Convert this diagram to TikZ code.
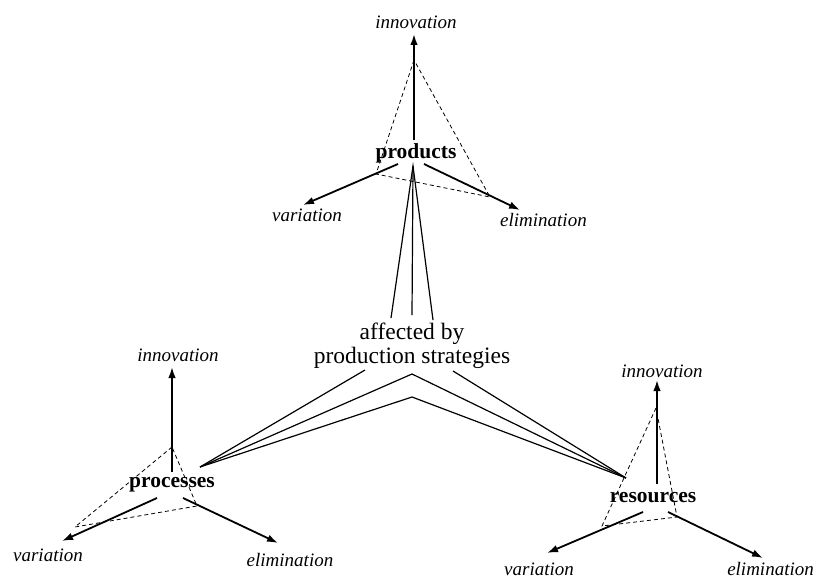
\documentclass[tikz,border=0pt]{standalone}
\usepackage{fontspec}
\setmainfont{Liberation Serif}
\usetikzlibrary{arrows.meta}
\begin{document}
\begin{tikzpicture}[x=1pt,y=-1pt,
  axis/.style={line width=1.8pt,-{Latex[length=11pt,width=7.5pt]}},
  tri/.style={line width=0.8pt, dash pattern=on 4pt off 3pt},
  fan/.style={line width=1.2pt, line join=miter},
  lab/.style={font=\fontsize{19}{22}\selectfont\itshape, inner sep=0pt},
  cat/.style={font=\fontsize{21.5}{24}\selectfont\bfseries, inner sep=0pt},
  big/.style={font=\fontsize{23.5}{24}\selectfont, inner sep=0pt, anchor=base}
]
\useasboundingbox (0,0) rectangle (816,578);

% ---------- products ----------
\node[cat] (prod) at (416,153) {products};
\coordinate (pIb) at (414,140); \coordinate (pIt) at (414,34);
\coordinate (pVb) at (398,164); \coordinate (pVt) at (303,205);
\coordinate (pEb) at (424,164); \coordinate (pEt) at (520,210);
\coordinate (pA) at (414,60); \coordinate (pL) at (376,174); \coordinate (pR) at (490,197);
\draw[tri] (pA) -- (pL) -- (pR) -- cycle;
\draw[axis] (pIb) -- (pIt);
\draw[axis] (pVb) -- (pVt);
\draw[axis] (pEb) -- (pEt);
\node[lab] (pInn) at (416,22) {innovation};
\node[lab] (pVar) at (307,215) {variation};
\node[lab, anchor=west] (pEli) at (500,220) {elimination};

% ---------- central text and fans ----------
\node[big] (aff1) at (412,339) {affected by};
\node[big] (aff2) at (412,363) {production strategies};
\coordinate (topC) at (413,166);
\coordinate (f1) at (391,318); \coordinate (f2) at (412,315); \coordinate (f3) at (433,320);
\draw[fan] (f1) -- (topC) -- (f3);
\draw[fan] (topC) -- (f2);

\coordinate (LC) at (200,467);
\coordinate (RC) at (626,478);
\coordinate (oL) at (365,370); \coordinate (oR) at (453,371);
\coordinate (mV) at (412,374); \coordinate (iV) at (412,397);
\draw[fan] (LC) -- (oL);
\draw[fan] (oR) -- (RC);
\draw[fan] (LC) -- (mV) -- (RC);
\draw[fan] (LC) -- (iV) -- (RC);

% ---------- processes ----------
\node[cat] (proc) at (172,485) {processes};
\coordinate (cIb) at (172,472); \coordinate (cIt) at (172,367);
\coordinate (cVb) at (157,498); \coordinate (cVt) at (62,541);
\coordinate (cEb) at (183,498); \coordinate (cEt) at (278,543);
\coordinate (cA) at (172,447); \coordinate (cL) at (75,527); \coordinate (cR) at (197,506);
\draw[tri] (cA) -- (cL) -- (cR) -- cycle;
\draw[axis] (cIb) -- (cIt);
\draw[axis] (cVb) -- (cVt);
\draw[axis] (cEb) -- (cEt);
\node[lab] (cInn) at (178,355) {innovation};
\node[lab] (cVar) at (48,555) {variation};
\node[lab] (cEli) at (290,560) {elimination};

% ---------- resources ----------
\node[cat] (res) at (653,498) {resources};
\coordinate (rIb) at (657,484); \coordinate (rIt) at (657,380);
\coordinate (rVb) at (643,512); \coordinate (rVt) at (547,553);
\coordinate (rEb) at (668,512); \coordinate (rEt) at (763,558);
\coordinate (rA) at (656,408); \coordinate (rL) at (602,526); \coordinate (rR) at (677,517);
\draw[tri] (rA) -- (rL) -- (rR) -- cycle;
\draw[axis] (rIb) -- (rIt);
\draw[axis] (rVb) -- (rVt);
\draw[axis] (rEb) -- (rEt);
\node[lab] (rInn) at (662,371) {innovation};
\node[lab] (rVar) at (539,569) {variation};
\node[lab, anchor=east] (rEli) at (814,569) {elimination};
\end{tikzpicture}
\end{document}
